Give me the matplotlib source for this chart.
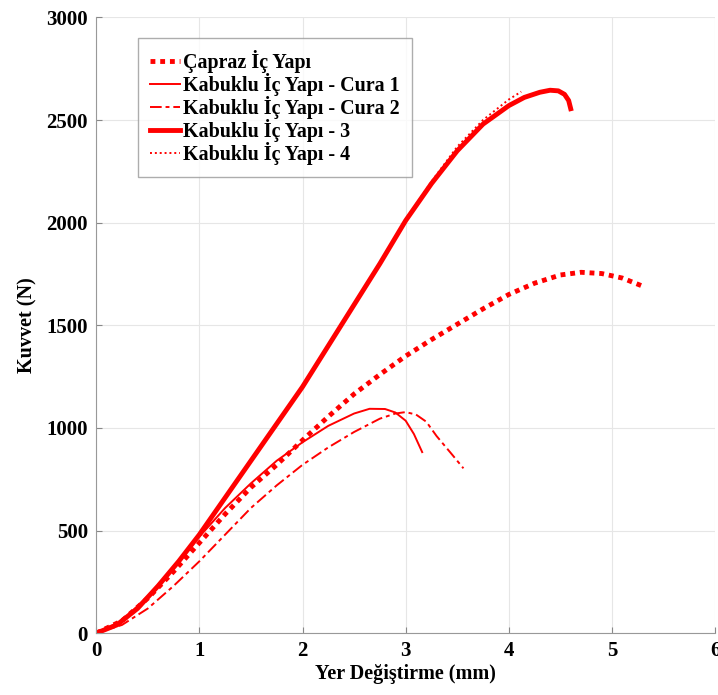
import matplotlib

matplotlib.use("Agg")
import matplotlib.pyplot as plt

# Force-displacement curves
capraz_x = [0, 0.25, 0.5, 0.75, 1.0, 1.25, 1.5, 1.75, 2.0, 2.25, 2.5, 2.75, 3.0, 3.25, 3.5, 3.75,
            4.0, 4.25, 4.5, 4.7, 4.9, 5.1, 5.3]
capraz_y = [0, 60, 170, 300, 440, 580, 710, 820, 940, 1055, 1165, 1260, 1350, 1430, 1505, 1580,
            1650, 1705, 1745, 1758, 1752, 1730, 1690]

cura1_x = [0, 0.25, 0.5, 0.75, 1.0, 1.25, 1.5, 1.75, 2.0, 2.25, 2.5, 2.65, 2.8, 2.9, 3.0, 3.08, 3.16]
cura1_y = [0, 60, 180, 320, 470, 610, 730, 840, 930, 1010, 1070, 1093, 1092, 1075, 1035, 970, 882]

cura2_x = [0, 0.25, 0.5, 0.75, 1.0, 1.25, 1.5, 1.75, 2.0, 2.25, 2.5, 2.75, 2.9, 3.0, 3.1, 3.2, 3.3,
           3.45, 3.56]
cura2_y = [0, 40, 120, 230, 350, 480, 610, 720, 820, 905, 980, 1045, 1070, 1077, 1065, 1030, 960,
           870, 803]

k3_x = [0, 0.2, 0.4, 0.6, 0.8, 1.0, 1.25, 1.5, 1.75, 2.0, 2.25, 2.5, 2.75, 3.0, 3.25, 3.5, 3.75,
        4.0, 4.15, 4.3, 4.4, 4.48, 4.54, 4.58, 4.6]
k3_y = [0, 40, 120, 230, 350, 480, 660, 840, 1020, 1200, 1400, 1600, 1800, 2010, 2190, 2350, 2480,
        2570, 2610, 2635, 2645, 2642, 2625, 2595, 2555]

k4_x = [0, 0.2, 0.4, 0.6, 0.8, 1.0, 1.25, 1.5, 1.75, 2.0, 2.25, 2.5, 2.75, 3.0, 3.25, 3.5, 3.75,
        4.0, 4.12]
k4_y = [0, 40, 120, 230, 350, 480, 660, 840, 1020, 1200, 1400, 1600, 1805, 2015, 2200, 2370, 2500,
        2600, 2638]

labels = ["Çapraz İç Yapı", "Kabuklu İç Yapı - Cura 1", "Kabuklu İç Yapı - Cura 2",
          "Kabuklu İç Yapı - 3", "Kabuklu İç Yapı - 4"]
x_ticks = [0, 1, 2, 3, 4, 5, 6]
y_ticks = [0, 500, 1000, 1500, 2000, 2500, 3000]

plt.rcParams["font.family"] = ["Liberation Serif", "DejaVu Serif"]
plt.rcParams["font.weight"] = "bold"

RED = "#ff0000"
fig = plt.figure(figsize=(7.18, 6.95), dpi=100)
ax = fig.add_axes([0.134, 0.089, 0.862, 0.886])

ax.plot(capraz_x, capraz_y, color=RED, lw=3.5, ls=(0, (1, 1)), label=labels[0])
ax.plot(cura1_x, cura1_y, color=RED, lw=1.4, ls="-", label=labels[1])
ax.plot(cura2_x, cura2_y, color=RED, lw=1.4, ls=(0, (6, 2, 2, 2)), label=labels[2])
ax.plot(k3_x, k3_y, color=RED, lw=3.5, ls="-", label=labels[3])
ax.plot(k4_x, k4_y, color=RED, lw=1.4, ls=(0, (1, 1.5)), label=labels[4])

ax.set_xlim(0, 6)
ax.set_ylim(0, 3000)
ax.set_xticks(x_ticks)
ax.set_yticks(y_ticks)
ax.tick_params(labelsize=15, direction="in", length=4, color="#888888", pad=6)
for lab in ax.get_xticklabels() + ax.get_yticklabels():
    lab.set_fontweight("bold")
ax.grid(True, color="#e6e6e6", lw=0.8)
ax.set_axisbelow(True)
for s in ("top", "right"):
    ax.spines[s].set_visible(False)
for s in ("left", "bottom"):
    ax.spines[s].set_color("#999999")

ax.set_xlabel("Yer Değiştirme (mm)", fontsize=14.5, fontweight="bold", labelpad=2)
ax.set_ylabel("Kuvvet (N)", fontsize=14.5, fontweight="bold", labelpad=6)

leg = ax.legend(loc="upper left", bbox_to_anchor=(0.068, 0.967), borderaxespad=0, fontsize=14.4,
                frameon=True, fancybox=False, edgecolor="#999999", handlelength=1.5,
                handletextpad=0.15, labelspacing=0.0, borderpad=0.6)
leg.get_frame().set_linewidth(1.0)
for t in leg.get_texts():
    t.set_fontweight("bold")

fig.savefig("out.png", dpi=100)
